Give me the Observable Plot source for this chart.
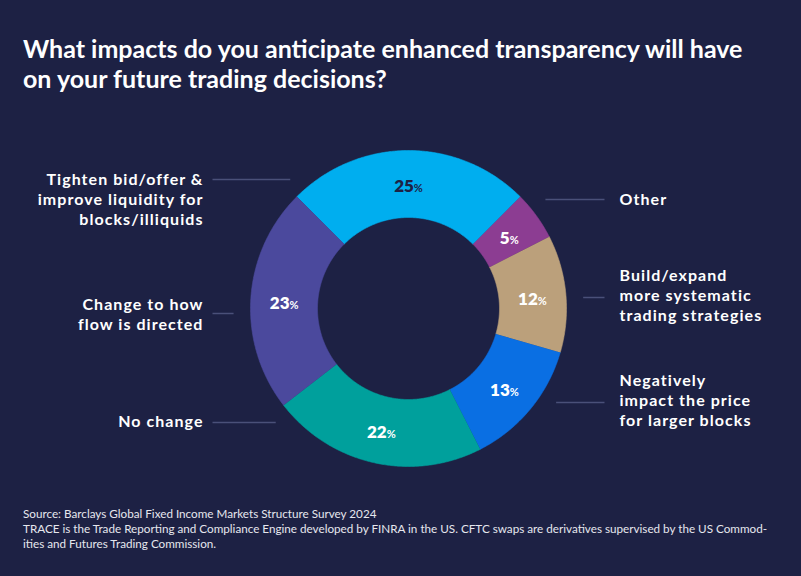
<!DOCTYPE html>
<html>
<head>
<meta charset="utf-8">
<script src="https://cdn.jsdelivr.net/npm/d3@7"></script>
<script src="https://cdn.jsdelivr.net/npm/@observablehq/plot@0.6"></script>
<style>
  html, body { margin: 0; padding: 0; background: #1D2144; }
  #page { position: relative; width: 801px; height: 576px; background: #1D2144; overflow: hidden; font-family: Lato, "Open Sans", sans-serif; }
  #title { position: absolute; left: 23px; top: 33px; margin: 0; color: #fff; font-weight: 700; font-size: 25px; line-height: 30px; letter-spacing: 0px; white-space: nowrap; }
  #chart { position: absolute; left: 0; top: 115px; }
  #caption { position: absolute; left: 23px; top: 506px; color: #e6e7ee; font-size: 11.7px; line-height: 15px; white-space: nowrap; }
</style>
</head>
<body>
<div id="page">
  <div id="title">What impacts do you anticipate enhanced transparency will have<br>on your future trading decisions?</div>
  <div id="chart"></div>
  <div id="caption">Source: Barclays Global Fixed Income Markets Structure Survey 2024<br>TRACE is the Trade Reporting and Compliance Engine developed by FINRA in the US. CFTC swaps are derivatives supervised by the US Commod-<br>ities and Futures Trading Commission.</div>
</div>
<script>
// ---- data ----
const categories = [
  "Tighten bid/offer &\nimprove liquidity for\nblocks/illiquids",
  "Other",
  "Build/expand\nmore systematic\ntrading strategies",
  "Negatively\nimpact the price\nfor larger blocks",
  "No change",
  "Change to how\nflow is directed"
];
const values = [25, 5, 12, 13, 22, 23];

// ---- styles ----
const sliceColors = ["#00AEEF", "#8C3D92", "#BBA07B", "#0A6FE3", "#00A09C", "#4B499D"];
const labelInk = ["#1D2144", "#ffffff", "#ffffff", "#ffffff", "#ffffff", "#ffffff"];
// label layout: side, text block centre y, leader line y (page px)
const labelSide = ["left", "right", "right", "right", "left", "left"];
const labelTextY = [198, 198, 294, 399, 420, 313];
const labelLineY = [179, 199, 297, 402, 422, 313];

// ---- geometry ----
const W = 801, H = 380, TOP = 115;
const cx = 408, cy = 308 - TOP, rOuter = 158, rInner = 91, rLeader = 175;
const leftTextX = 203, rightTextX = 619, leftLineX = 212, rightLineX = 604;

const pie = d3.pie().sort(null).startAngle(-Math.PI / 4).endAngle(2 * Math.PI - Math.PI / 4);
const arcs = pie(values);

const pt = (r, a) => ({x: cx + r * Math.sin(a), y: cy - r * Math.cos(a)});

const arcPoints = [];
arcs.forEach((d, i) => {
  const n = Math.max(8, Math.ceil((d.endAngle - d.startAngle) / (Math.PI / 360)));
  for (let k = 0; k <= n; k++) {
    const a = d.startAngle + (d.endAngle - d.startAngle) * k / n;
    arcPoints.push({key: categories[i], ...pt(rOuter, a)});
  }
  for (let k = n; k >= 0; k--) {
    const a = d.startAngle + (d.endAngle - d.startAngle) * k / n;
    arcPoints.push({key: categories[i], ...pt(rInner, a)});
  }
});

const pctData = arcs.map((d, i) => {
  const a = (d.startAngle + d.endAngle) / 2;
  return {i, text: `${values[i]}%`, ink: labelInk[i], ...pt((rOuter + rInner) / 2, a)};
});

const labelData = categories.map((c, i) => {
  const ly = labelLineY[i] - TOP;
  const dy = ly - cy;
  const dx = Math.sqrt(Math.max(0, rLeader * rLeader - dy * dy));
  const left = labelSide[i] === "left";
  return {
    text: c, side: labelSide[i],
    tx: left ? leftTextX : rightTextX, ty: labelTextY[i] - TOP,
    x1: left ? leftLineX : cx + dx, x2: left ? cx - dx : rightLineX, ly
  };
});

const textStyle = {fill: "#ffffff", fontSize: 16, fontWeight: 700, lineHeight: 1.25, fontFamily: "Lato, 'Open Sans', sans-serif"};

const plot = Plot.plot({
  width: W, height: H,
  margin: 0,
  style: {background: "transparent", fontFamily: "Lato, sans-serif", overflow: "visible"},
  x: {domain: [0, W], range: [0, W], axis: null},
  y: {domain: [0, H], range: [0, H], axis: null},
  color: {domain: categories, range: sliceColors},
  marks: [
    Plot.line(arcPoints, {x: "x", y: "y", z: "key", fill: "key", stroke: "key", strokeWidth: 0.6, curve: "linear"}),
    Plot.link(labelData, {x1: "x1", y1: "ly", x2: "x2", y2: "ly", stroke: "#4A5079", strokeWidth: 1.5}),
    Plot.text(labelData.filter(d => d.side === "left"), {x: "tx", y: "ty", text: "text", textAnchor: "end", lineAnchor: "middle", ...textStyle}),
    Plot.text(labelData.filter(d => d.side === "right"), {x: "tx", y: "ty", text: "text", textAnchor: "start", lineAnchor: "middle", ...textStyle}),
    Plot.text(pctData.filter(d => d.ink !== "#ffffff"), {x: "x", y: "y", text: "text", dy: 3, fill: "#1D2144", fontSize: 17, fontWeight: 800, fontFamily: "Lato, sans-serif"}),
    Plot.text(pctData.filter(d => d.ink === "#ffffff"), {x: "x", y: "y", text: "text", dy: 3, fill: "#ffffff", fontSize: 17, fontWeight: 800, fontFamily: "Lato, sans-serif"})
  ]
});

// make the % sign smaller; widen letter spacing of category labels
d3.select(plot).selectAll("text").each(function() {
  const t = this.textContent;
  const m = /^(\d+)%$/.exec(t);
  if (m && this.children.length === 0) {
    const el = d3.select(this);
    el.text(null);
    el.append("tspan").text(m[1]);
    el.append("tspan").attr("font-size", 11).attr("font-weight", 700).text("%");
  } else if (!m) {
    this.style.letterSpacing = "1.05px";
  }
});

document.getElementById("chart").appendChild(plot);
</script>
</body>
</html>
